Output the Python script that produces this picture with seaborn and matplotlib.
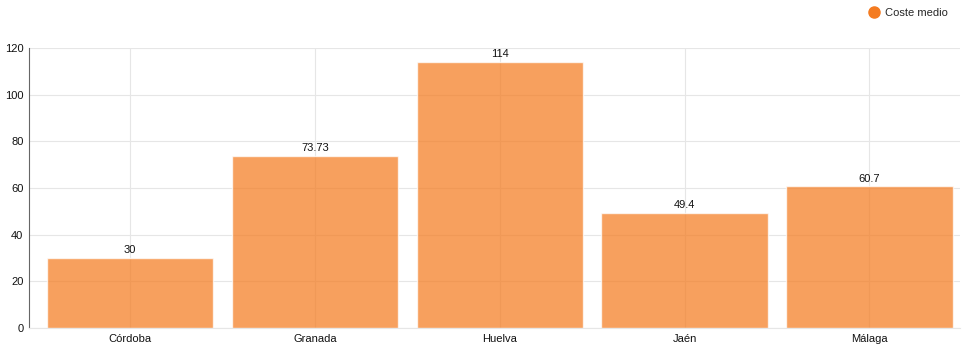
import pandas as pd
import matplotlib
matplotlib.use('Agg')
import matplotlib.pyplot as plt
import seaborn as sns
from matplotlib.lines import Line2D

provincias = ['Córdoba', 'Granada', 'Huelva', 'Jaén', 'Málaga']
coste_medio = [30, 73.73, 114, 49.4, 60.7]
etiquetas = ['30', '73.73', '114', '49.4', '60.7']

df = pd.DataFrame({'provincia': provincias, 'coste': coste_medio})

sns.set_style('white')
plt.rcParams['font.family'] = ['Liberation Sans', 'DejaVu Sans']

fig = plt.figure(figsize=(9.69, 3.46), dpi=100)
ax = fig.add_axes([29 / 969, 1 - 328 / 346, (960 - 29) / 969, (328 - 48) / 346])

sns.barplot(data=df, x='provincia', y='coste', color='#F47B20', alpha=0.72,
            width=0.9, saturation=1, ax=ax, zorder=2)

for i, (v, t) in enumerate(zip(coste_medio, etiquetas)):
    ax.text(i, v + 1.2, t, ha='center', va='bottom', fontsize=8, color='#111111')

ax.set_ylim(0, 120)
ax.set_yticks(range(0, 121, 20))
ax.set_xlim(-0.547, 4.49)
ax.grid(True, color='#e6e6e6', linewidth=0.8, zorder=0)
ax.set_axisbelow(True)
ax.set_xlabel('')
ax.set_ylabel('')
ax.tick_params(axis='both', labelsize=8, colors='#111111', length=0, pad=4)
for s in ['top', 'right']:
    ax.spines[s].set_visible(False)
ax.spines['bottom'].set_color('#e6e6e6')
ax.spines['left'].set_color('#666666')

# legend: solid dot, top right
handle = Line2D([], [], marker='o', linestyle='', color='#F47B20', markersize=8)
fig.legend([handle], ['Coste medio'], loc='upper right', bbox_to_anchor=(0.986, 1.0),
           frameon=False, fontsize=8, handletextpad=0.0, borderaxespad=0.3)

plt.savefig('out.png', dpi=100)
